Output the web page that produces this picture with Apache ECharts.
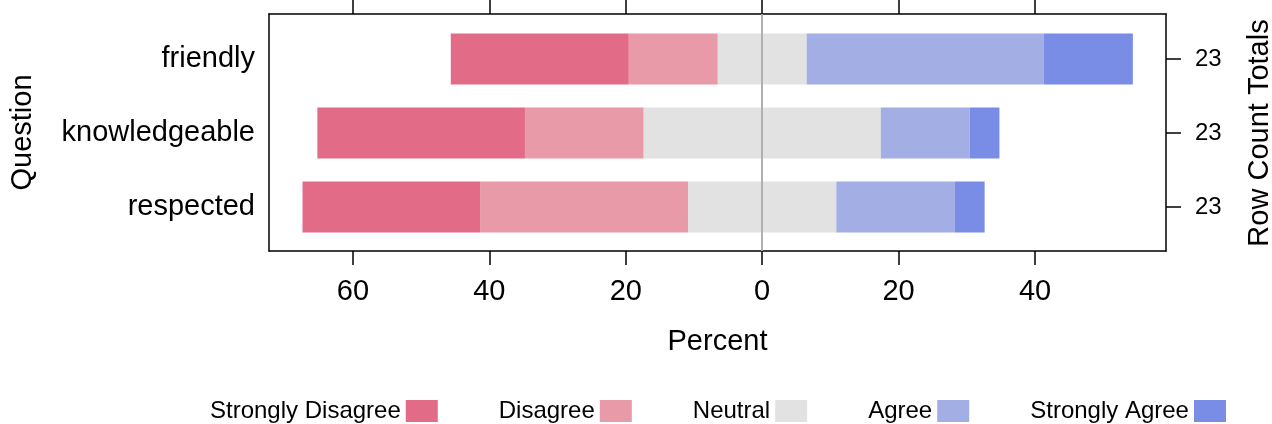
<!DOCTYPE html>
<html>
<head>
<meta charset="utf-8">
<script src="https://cdn.jsdelivr.net/npm/echarts@6/dist/echarts.min.js"></script>
<style>html,body{margin:0;padding:0;background:#fff}#c{width:1272px;height:424px}</style>
</head>
<body>
<div id="c"></div>
<script>
// Data (percent of 23 respondents per question)
var questions = ['friendly', 'knowledgeable', 'respected'];
var rowTotals = [23, 23, 23];
var stronglyDisagree = [26.09, 30.43, 26.09];
var disagree = [13.04, 17.39, 30.43];
var neutral = [13.04, 34.78, 21.74];
var agree = [34.78, 13.04, 17.39];
var stronglyAgree = [13.04, 4.35, 4.35];
var xTicks = [-60, -40, -20, 0, 20, 40];
var levels = ['Strongly Disagree', 'Disagree', 'Neutral', 'Agree', 'Strongly Agree'];
var colors = ['#E26B87', '#E89AA8', '#E2E2E2', '#A2AEE4', '#798CE6'];

var FONT = 'Liberation Sans, Arial, sans-serif';
var xMin = -72.3, xMax = 59.2;

function neg(a) { return a.map(function (v) { return -v; }); }
function half(a, s) { return a.map(function (v) { return s * v / 2; }); }

var chart = echarts.init(document.getElementById('c'), null, { renderer: 'canvas' });

function barSeries(name, data, color) {
  return {
    name: name, type: 'bar', stack: 'likert', stackStrategy: 'samesign',
    xAxisIndex: 0, yAxisIndex: 0,
    data: data, barWidth: 51, z: 3,
    itemStyle: { color: color },
    emphasis: { disabled: true }, silent: true, animation: false
  };
}

var axisLineStyle = { color: '#000', width: 1.5 };

var option = {
  animation: false,
  textStyle: { fontFamily: FONT, color: '#000' },
  legend: {
    data: levels, left: 210, top: 399, padding: 0,
    itemWidth: 32, itemHeight: 22, itemGap: 61,
    align: 'right', icon: 'rect',
    textStyle: { fontSize: 24, lineHeight: 22, color: '#000', fontFamily: FONT },
    selectedMode: false
  },
  grid: [
    { left: 269, right: 106, top: 22, bottom: 180, outerBoundsMode: 'none', containLabel: false },
    { left: 269, right: 106, top: 14, bottom: 173, outerBoundsMode: 'none', containLabel: false }
  ],
  xAxis: [
    { gridIndex: 0, type: 'value', min: xMin, max: xMax, show: false },
    {
      gridIndex: 1, type: 'value', min: xMin, max: xMax, position: 'bottom',
      name: 'Percent', nameLocation: 'middle', nameGap: 76,
      nameTextStyle: { fontSize: 29, color: '#000', fontFamily: FONT },
      axisLine: { show: true, onZero: false, lineStyle: axisLineStyle },
      axisTick: { show: true, length: 14, customValues: xTicks, lineStyle: axisLineStyle },
      axisLabel: { show: true, customValues: xTicks, margin: 26, fontSize: 29, color: '#000', fontFamily: FONT,
        formatter: function (v) { return String(Math.abs(v)); } },
      splitLine: { show: false }
    },
    {
      gridIndex: 1, type: 'value', min: xMin, max: xMax, position: 'top',
      axisLine: { show: true, onZero: false, lineStyle: axisLineStyle },
      axisTick: { show: true, length: 14, customValues: xTicks, lineStyle: axisLineStyle },
      axisLabel: { show: false },
      splitLine: { show: false }
    }
  ],
  yAxis: [
    {
      gridIndex: 0, type: 'category', data: questions, inverse: true, position: 'left',
      axisLine: { show: false, onZero: false }, axisTick: { show: false },
      axisLabel: { margin: 14, fontSize: 29, color: '#000', fontFamily: FONT }
    },
    {
      gridIndex: 0, type: 'category', data: rowTotals.map(String), inverse: true, position: 'right',
      name: 'Row Count Totals', nameLocation: 'middle', nameGap: 79, nameRotate: 90,
      nameTextStyle: { fontSize: 29, color: '#000', fontFamily: FONT },
      axisLine: { show: false, onZero: false },
      axisTick: { show: true, length: 15, alignWithLabel: true, lineStyle: axisLineStyle },
      axisLabel: { margin: 29, fontSize: 24, color: '#000', fontFamily: FONT }
    },
    {
      gridIndex: 1, type: 'value', min: 0, max: 1, position: 'left',
      name: 'Question', nameLocation: 'middle', nameGap: 232, nameRotate: 90,
      nameTextStyle: { fontSize: 29, color: '#000', fontFamily: FONT },
      axisLine: { show: true, onZero: false, lineStyle: axisLineStyle },
      axisTick: { show: false }, axisLabel: { show: false }, splitLine: { show: false }
    },
    {
      gridIndex: 1, type: 'value', min: 0, max: 1, position: 'right',
      axisLine: { show: true, onZero: false, lineStyle: axisLineStyle },
      axisTick: { show: false }, axisLabel: { show: false }, splitLine: { show: false }
    }
  ],
  series: [
    {
      type: 'line', xAxisIndex: 1, yAxisIndex: 2, data: [], z: 1, silent: true,
      markLine: {
        silent: true, symbol: 'none', label: { show: false },
        lineStyle: { color: '#B0B0B0', width: 2, type: 'solid' },
        data: [{ xAxis: 0 }]
      }
    },
    barSeries('Neutral', half(neutral, -1), colors[2]),
    barSeries('Neutral', half(neutral, 1), colors[2]),
    barSeries('Disagree', neg(disagree), colors[1]),
    barSeries('Agree', agree, colors[3]),
    barSeries('Strongly Disagree', neg(stronglyDisagree), colors[0]),
    barSeries('Strongly Agree', stronglyAgree, colors[4])
  ]
};
chart.setOption(option);
</script>
</body>
</html>
